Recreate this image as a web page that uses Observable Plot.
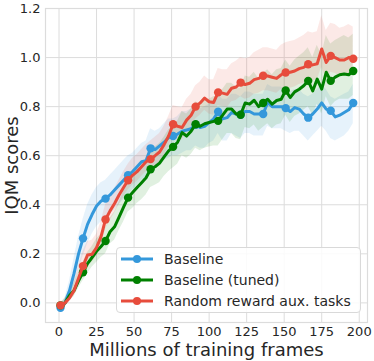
<!DOCTYPE html>
<html><head><meta charset="utf-8">
<script src="https://cdn.jsdelivr.net/npm/d3@7"></script>
<script src="https://cdn.jsdelivr.net/npm/@observablehq/plot@0.6"></script>
<style>
body{margin:0;background:#fff;}
#wrap{position:relative;width:374px;height:361px;font-family:"DejaVu Sans",sans-serif;}
#legend{position:absolute;left:116px;top:247px;width:245px;height:66px;border:1px solid #d9d9d9;border-radius:4px;background:rgba(255,255,255,0.85);box-sizing:border-box;}
.row{position:absolute;left:0;height:20px;display:flex;align-items:center;font-size:14px;color:#262626;white-space:nowrap;}
.row svg{display:block;}
.row span{margin-left:7px;}
</style></head><body><div id="wrap"></div>
<script>
const frames = [1,4,7,10,13,16,19,22,25,28,31,34,37,40,43,46,49,52,55,58,61,64,67,70,73,76,79,82,85,88,91,94,97,100,103,106,109,112,115,118,121,124,127,130,133,136,139,142,145,148,151,154,157,160,163,166,169,172,175,178,181,184,187,190,193,196];

const seriesNames = ["Baseline", "Baseline (tuned)", "Random reward aux. tasks"];
const seriesColors = ["#3498db", "#008000", "#e74c3c"];

const baseline = [-0.02,0.00,0.05,0.12,0.20,0.263,0.32,0.36,0.395,0.415,0.425,0.44,0.46,0.48,0.50,0.52,0.535,0.555,0.575,0.58,0.63,0.625,0.64,0.655,0.674,0.68,0.688,0.70,0.705,0.71,0.726,0.715,0.72,0.735,0.75,0.779,0.75,0.755,0.776,0.77,0.767,0.78,0.78,0.77,0.77,0.77,0.817,0.80,0.80,0.80,0.794,0.78,0.796,0.79,0.77,0.755,0.77,0.79,0.815,0.79,0.783,0.758,0.765,0.776,0.787,0.815];
const baselineLo = [-0.03,-0.02,0.02,0.07,0.13,0.19,0.24,0.28,0.31,0.33,0.34,0.36,0.38,0.40,0.42,0.44,0.46,0.48,0.50,0.51,0.55,0.55,0.56,0.58,0.59,0.60,0.60,0.61,0.62,0.62,0.64,0.63,0.63,0.65,0.66,0.69,0.66,0.66,0.69,0.68,0.67,0.69,0.69,0.68,0.68,0.68,0.72,0.71,0.71,0.71,0.70,0.69,0.70,0.70,0.68,0.66,0.68,0.70,0.72,0.70,0.67,0.66,0.67,0.68,0.70,0.73];
const baselineHi = [-0.01,0.02,0.09,0.18,0.27,0.34,0.40,0.44,0.47,0.49,0.50,0.52,0.54,0.56,0.58,0.60,0.61,0.63,0.65,0.66,0.71,0.70,0.71,0.73,0.75,0.75,0.76,0.78,0.78,0.79,0.80,0.79,0.80,0.81,0.82,0.85,0.83,0.83,0.85,0.85,0.84,0.86,0.86,0.85,0.85,0.85,0.89,0.88,0.88,0.88,0.87,0.86,0.87,0.87,0.85,0.84,0.85,0.87,0.89,0.87,0.84,0.83,0.84,0.85,0.86,0.89];

const tuned = [-0.01,0.00,0.03,0.05,0.09,0.125,0.16,0.185,0.21,0.23,0.252,0.29,0.31,0.35,0.39,0.429,0.45,0.47,0.49,0.51,0.545,0.555,0.57,0.595,0.62,0.636,0.655,0.694,0.68,0.70,0.728,0.72,0.73,0.735,0.74,0.742,0.765,0.79,0.79,0.77,0.767,0.815,0.81,0.826,0.80,0.815,0.83,0.81,0.825,0.83,0.866,0.837,0.86,0.871,0.885,0.905,0.864,0.912,0.871,0.94,0.905,0.92,0.93,0.933,0.93,0.945];
const tunedLo = [-0.025,-0.02,0.01,0.025,0.06,0.09,0.12,0.145,0.165,0.185,0.20,0.24,0.255,0.295,0.33,0.37,0.385,0.405,0.42,0.44,0.47,0.48,0.49,0.515,0.535,0.55,0.565,0.60,0.59,0.605,0.63,0.62,0.63,0.635,0.64,0.64,0.665,0.69,0.69,0.67,0.665,0.715,0.71,0.725,0.70,0.715,0.73,0.71,0.725,0.73,0.765,0.735,0.76,0.77,0.785,0.80,0.765,0.81,0.77,0.84,0.80,0.82,0.83,0.83,0.83,0.845];
const tunedHi = [0.00,0.02,0.055,0.08,0.125,0.165,0.205,0.23,0.26,0.28,0.305,0.345,0.37,0.41,0.455,0.495,0.52,0.54,0.56,0.585,0.62,0.635,0.65,0.675,0.705,0.72,0.74,0.78,0.77,0.79,0.82,0.81,0.825,0.83,0.84,0.845,0.87,0.895,0.895,0.88,0.875,0.925,0.92,0.94,0.915,0.935,0.95,0.93,0.95,0.955,0.99,0.965,0.99,1.005,1.02,1.04,1.00,1.05,1.01,1.09,1.055,1.07,1.08,1.09,1.08,1.095];

const randomAux = [-0.01,0.00,0.02,0.05,0.10,0.15,0.195,0.198,0.225,0.27,0.34,0.375,0.405,0.44,0.47,0.50,0.52,0.535,0.555,0.575,0.586,0.60,0.615,0.645,0.68,0.728,0.72,0.715,0.745,0.765,0.80,0.815,0.835,0.82,0.817,0.858,0.855,0.85,0.875,0.88,0.898,0.89,0.895,0.91,0.915,0.926,0.925,0.92,0.915,0.93,0.939,0.94,0.945,0.955,0.96,0.973,0.97,0.975,1.035,0.98,1.007,1.0,0.99,0.99,1.0,0.995];
const randomAuxLo = [-0.02,-0.01,0.005,0.03,0.075,0.12,0.16,0.165,0.19,0.235,0.30,0.335,0.365,0.40,0.43,0.46,0.48,0.495,0.515,0.535,0.545,0.555,0.57,0.60,0.635,0.68,0.67,0.665,0.695,0.715,0.75,0.765,0.785,0.77,0.765,0.805,0.80,0.795,0.82,0.825,0.84,0.83,0.835,0.85,0.855,0.865,0.865,0.86,0.855,0.87,0.875,0.875,0.88,0.89,0.895,0.905,0.905,0.91,0.96,0.915,0.94,0.935,0.925,0.925,0.935,0.93];
const randomAuxHi = [0.00,0.015,0.045,0.085,0.15,0.21,0.25,0.255,0.28,0.33,0.40,0.435,0.465,0.50,0.535,0.565,0.59,0.605,0.625,0.645,0.66,0.675,0.69,0.72,0.76,0.805,0.80,0.795,0.83,0.85,0.885,0.90,0.925,0.91,0.91,0.955,0.95,0.95,0.975,0.985,1.0,0.995,1.0,1.02,1.03,1.04,1.04,1.035,1.03,1.05,1.06,1.065,1.07,1.08,1.09,1.105,1.10,1.105,1.17,1.11,1.14,1.135,1.12,1.125,1.135,1.125];

const xTicks = [0,25,50,75,100,125,150,175,200];
const yTicks = [0.0,0.2,0.4,0.6,0.8,1.0,1.2];
const xLabel = "Millions of training frames";
const yLabel = "IQM scores";

const seriesData = [
  [baseline, baselineLo, baselineHi],
  [tuned, tunedLo, tunedHi],
  [randomAux, randomAuxLo, randomAuxHi]
];
const rows = [];
seriesData.forEach(([m, lo, hi], s) => {
  frames.forEach((f, i) => rows.push({x: f, y: m[i], lo: lo[i], hi: hi[i], s: seriesNames[s], i}));
});
const color = {domain: seriesNames, range: seriesColors};

const marks = [
  Plot.gridX(xTicks, {stroke: "#dcdcdc", strokeOpacity: 1, strokeWidth: 1}),
  Plot.gridY(yTicks, {stroke: "#dcdcdc", strokeOpacity: 1, strokeWidth: 1}),
  Plot.frame({stroke: "#dcdcdc", strokeWidth: 1.2}),
  Plot.axisX(xTicks, {tickSize: 0, tickPadding: 4, fontSize: 13, label: xLabel, labelAnchor: "center", labelOffset: 33}),
  Plot.axisY(yTicks, {tickSize: 0, tickPadding: 5, fontSize: 13, tickFormat: d3.format(".1f"), label: yLabel, labelAnchor: "center", labelOffset: 40}),
];
seriesNames.forEach(name => {
  const d = rows.filter(r => r.s === name);
  marks.push(Plot.areaY(d, {x: "x", y1: "lo", y2: "hi", fill: "s", fillOpacity: 0.12, curve: "linear"}));
});
seriesNames.forEach(name => {
  const d = rows.filter(r => r.s === name);
  marks.push(Plot.line(d, {x: "x", y: "y", stroke: "s", strokeWidth: 3, curve: "linear"}));
  marks.push(Plot.dot(d.filter(r => r.i % 5 === 0), {x: "x", y: "y", fill: "s", r: 4.2}));
});

const chart = Plot.plot({
  width: 374, height: 361,
  marginLeft: 45, marginRight: 7, marginTop: 8, marginBottom: 39,
  style: {fontFamily: "DejaVu Sans, sans-serif", color: "#262626", background: "#fff", overflow: "visible"},
  x: {domain: [-9, 205.5]},
  y: {domain: [-0.08, 1.2]},
  color,
  marks
});
const wrap = document.getElementById("wrap");
wrap.appendChild(chart);
[["x-axis label", xLabel], ["y-axis label", yLabel]].forEach(([aria, txt]) => {
  chart.querySelectorAll(`[aria-label="${aria}"]`).forEach(g => {
    g.setAttribute("font-size", "18");
    g.querySelectorAll("text").forEach(t => { t.setAttribute("font-size", "18"); t.textContent = txt; });
  });
});

const legend = document.createElement("div");
legend.id = "legend";
seriesNames.forEach((name, k) => {
  const row = document.createElement("div");
  row.className = "row";
  row.style.top = (1 + 21 * k) + "px";
  row.innerHTML = `<svg width="40" height="20"><line x1="4" y1="10" x2="36" y2="10" stroke="${seriesColors[k]}" stroke-width="3"/><circle cx="20" cy="10" r="4" fill="${seriesColors[k]}"/></svg><span>${name}</span>`;
  legend.appendChild(row);
});
wrap.appendChild(legend);
</script></body></html>
